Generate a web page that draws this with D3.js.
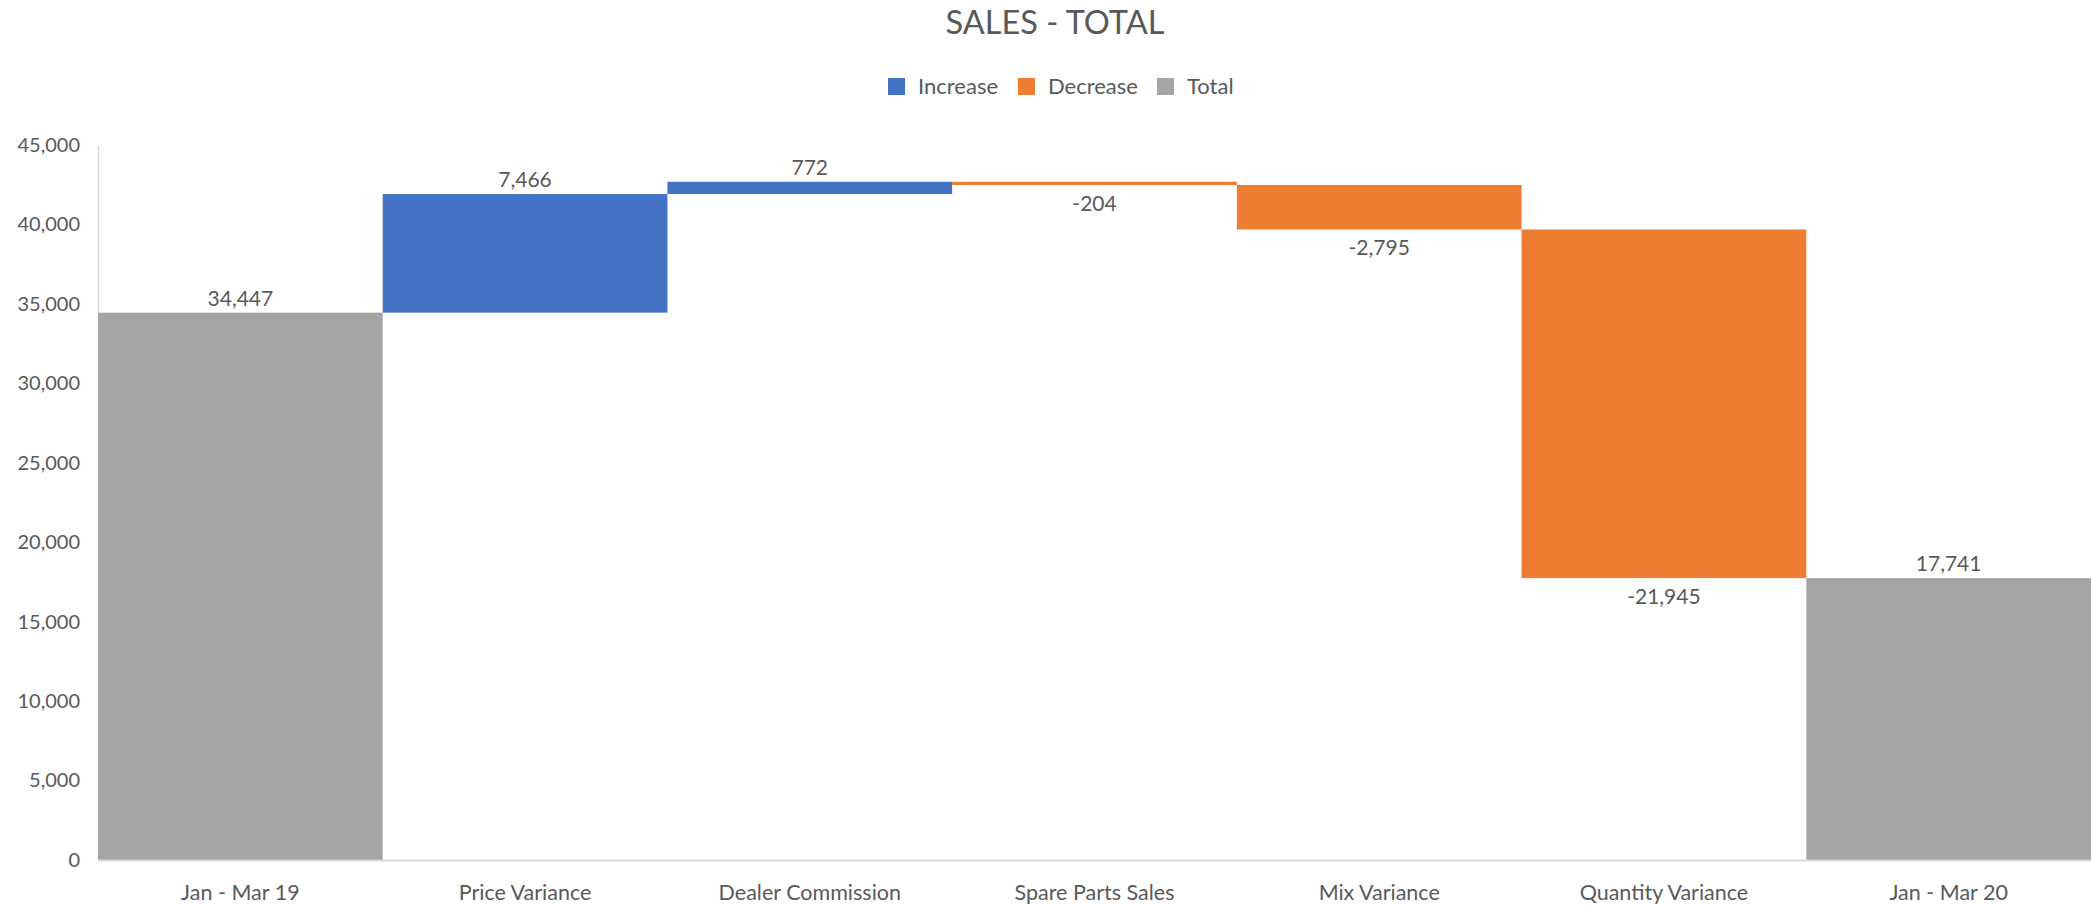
<!DOCTYPE html>
<html>
<head>
<meta charset="utf-8">
<script src="https://cdn.jsdelivr.net/npm/d3@7"></script>
<style>
  body { margin: 0; background: #fff; }
  text { font-family: Lato, "Open Sans", sans-serif; fill: #595959; }
</style>
</head>
<body>
<svg width="2091" height="905"></svg>
<script>
categories = ["Jan - Mar 19", "Price Variance", "Dealer Commission", "Spare Parts Sales", "Mix Variance", "Quantity Variance", "Jan - Mar 20"];
values = [34447, 7466, 772, -204, -2795, -21945, 17741];
kinds = ["Total", "Increase", "Increase", "Decrease", "Decrease", "Decrease", "Total"];
legendItems = ["Increase", "Decrease", "Total"];
yTicks = [0, 5000, 10000, 15000, 20000, 25000, 30000, 35000, 40000, 45000];

color = d3.scaleOrdinal()
    .domain(legendItems)
    .range(["#4472C4", "#ED7D31", "#A5A5A5"]);

// plain hyphen for negatives, like the original
format = v => d3.format(",d")(v).replace("\u2212", "-");

width = 2091;
height = 905;
margin = {top: 145, right: 0, bottom: 45, left: 98};

// running totals for the waterfall
let running = 0;
steps = values.map((v, i) => {
  let start, end;
  if (kinds[i] == "Total") { start = 0; end = v; running = v; }
  else { start = running; end = running + v; running = end; }
  return {name: categories[i], value: v, kind: kinds[i], start: start, end: end};
});

x = d3.scaleBand()
    .domain(categories)
    .range([margin.left, width - margin.right])
    .padding(0);

y = d3.scaleLinear()
    .domain([0, 45000])
    .range([height - margin.bottom, margin.top]);

const svg = d3.select("svg");

svg.append("text")
    .attr("x", 1055).attr("y", 34)
    .attr("text-anchor", "middle")
    .style("font-size", "32.5px")
    .text("SALES - TOTAL");

// legend
const legendX = [888, 1018, 1157];
const legend = svg.append("g")
  .selectAll("g")
  .data(legendItems)
  .join("g")
    .attr("transform", (d, i) => `translate(${legendX[i]},78)`);
legend.append("rect")
    .attr("width", 17).attr("height", 17)
    .attr("fill", d => color(d));
legend.append("text")
    .attr("x", 30).attr("y", 16)
    .style("font-size", "22px")
    .text(d => d);

// y axis
const yAxis = svg.append("g")
    .attr("transform", `translate(${margin.left},0)`)
    .call(d3.axisLeft(y).tickValues(yTicks).tickFormat(format).tickSize(0).tickPadding(18));
yAxis.select(".domain").attr("stroke", "#D9D9D9").attr("stroke-width", 1.5);
yAxis.selectAll("text").style("font-size", "20px").attr("fill", "#595959")
    .style("font-family", "Lato, sans-serif");

// bars
svg.append("g")
  .selectAll("rect")
  .data(steps)
  .join("rect")
    .attr("x", d => x(d.name))
    .attr("width", x.bandwidth())
    .attr("y", d => y(Math.max(d.start, d.end)))
    .attr("height", d => Math.max(2, Math.abs(y(d.start) - y(d.end))))
    .attr("fill", d => color(d.kind));

// x axis
const xAxis = svg.append("g")
    .attr("transform", `translate(0,${height - margin.bottom})`)
    .call(d3.axisBottom(x).tickSize(0).tickPadding(25));
xAxis.select(".domain").attr("stroke", "#D9D9D9").attr("stroke-width", 2);
xAxis.selectAll("text").style("font-size", "21.5px").attr("fill", "#595959")
    .style("font-family", "Lato, sans-serif");

// data labels
svg.append("g")
  .selectAll("text")
  .data(steps)
  .join("text")
    .attr("x", d => x(d.name) + x.bandwidth() / 2)
    .attr("y", d => d.value < 0 ? y(Math.min(d.start, d.end)) + 26 : y(Math.max(d.start, d.end)) - 7)
    .attr("text-anchor", "middle")
    .style("font-size", "21px")
    .text(d => format(d.value));
</script>
</body>
</html>
